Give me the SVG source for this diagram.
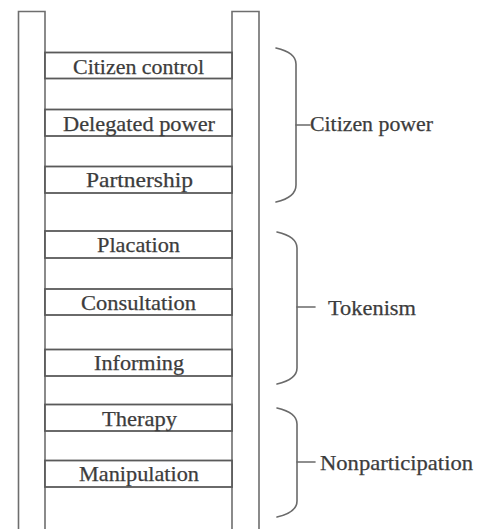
<svg xmlns="http://www.w3.org/2000/svg" width="482" height="529" viewBox="0 0 482 529">
<style>
.bg{fill:#ffffff}
.rail{fill:#ffffff;stroke:#6e6e6e;stroke-width:1.6}
.rung{fill:#ffffff;stroke:#5a5a5a;stroke-width:1.8}
.lbl{font-family:"Liberation Serif","Times New Roman",serif;font-size:21px;fill:#3c3c3c;stroke:#3c3c3c;stroke-width:0.25;text-anchor:middle}
.cat{font-family:"Liberation Serif","Times New Roman",serif;font-size:21px;fill:#3c3c3c;stroke:#3c3c3c;stroke-width:0.25}
.brace{fill:none;stroke:#6a6a6a;stroke-width:1.6;stroke-linecap:round}
</style>
<rect class="bg" x="0" y="0" width="482" height="529"/>
<g id="rails">
<path class="rail" d="M18.5,535 V11.5 H45 V535"/>
<path class="rail" d="M232,535 V11.5 H259 V535"/>
</g>
<g id="rung-citizen-control">
<rect class="rung" x="45" y="52.5" width="187" height="26"/>
<text class="lbl" x="138.5" y="74" textLength="131" lengthAdjust="spacingAndGlyphs">Citizen control</text>
</g>
<g id="rung-delegated-power">
<rect class="rung" x="45" y="109.5" width="187" height="26.5"/>
<text class="lbl" x="139" y="130.5" textLength="152" lengthAdjust="spacingAndGlyphs">Delegated power</text>
</g>
<g id="rung-partnership">
<rect class="rung" x="45" y="166.5" width="187" height="26.5"/>
<text class="lbl" x="139.5" y="187" textLength="107" lengthAdjust="spacingAndGlyphs">Partnership</text>
</g>
<g id="rung-placation">
<rect class="rung" x="45" y="231" width="187" height="27"/>
<text class="lbl" x="138.5" y="252" textLength="83" lengthAdjust="spacingAndGlyphs">Placation</text>
</g>
<g id="rung-consultation">
<rect class="rung" x="45" y="289" width="187" height="26"/>
<text class="lbl" x="138.5" y="309.5" textLength="115" lengthAdjust="spacingAndGlyphs">Consultation</text>
</g>
<g id="rung-informing">
<rect class="rung" x="45" y="349.5" width="187" height="26.5"/>
<text class="lbl" x="139" y="370" textLength="90" lengthAdjust="spacingAndGlyphs">Informing</text>
</g>
<g id="rung-therapy">
<rect class="rung" x="45" y="404.5" width="187" height="26.5"/>
<text class="lbl" x="139.5" y="425.5" textLength="75" lengthAdjust="spacingAndGlyphs">Therapy</text>
</g>
<g id="rung-manipulation">
<rect class="rung" x="45" y="460.5" width="187" height="26.5"/>
<text class="lbl" x="139" y="480.5" textLength="120" lengthAdjust="spacingAndGlyphs">Manipulation</text>
</g>
<g id="connectors">
<path class="brace" d="M276,48 C289,51 296,56 296,64 V185 C296,194 289,199 276,202"/>
<path class="brace" d="M296,125 H310"/>
<path class="brace" d="M277,232 C290,235 297,240 297,248 V368 C297,376 290,381 277,384"/>
<path class="brace" d="M297,307 H315"/>
<path class="brace" d="M277,408 C290,411 297,416 297,424 V501 C297,509 290,514 277,517"/>
<path class="brace" d="M297,462 H315"/>
</g>
<g id="cat-citizen-power">
<text class="cat" x="310" y="130.5" textLength="123" lengthAdjust="spacingAndGlyphs">Citizen power</text>
</g>
<g id="cat-tokenism">
<text class="cat" x="328" y="314.5" textLength="88" lengthAdjust="spacingAndGlyphs">Tokenism</text>
</g>
<g id="cat-nonparticipation">
<text class="cat" x="320" y="470" textLength="153" lengthAdjust="spacingAndGlyphs">Nonparticipation</text>
</g>
</svg>
